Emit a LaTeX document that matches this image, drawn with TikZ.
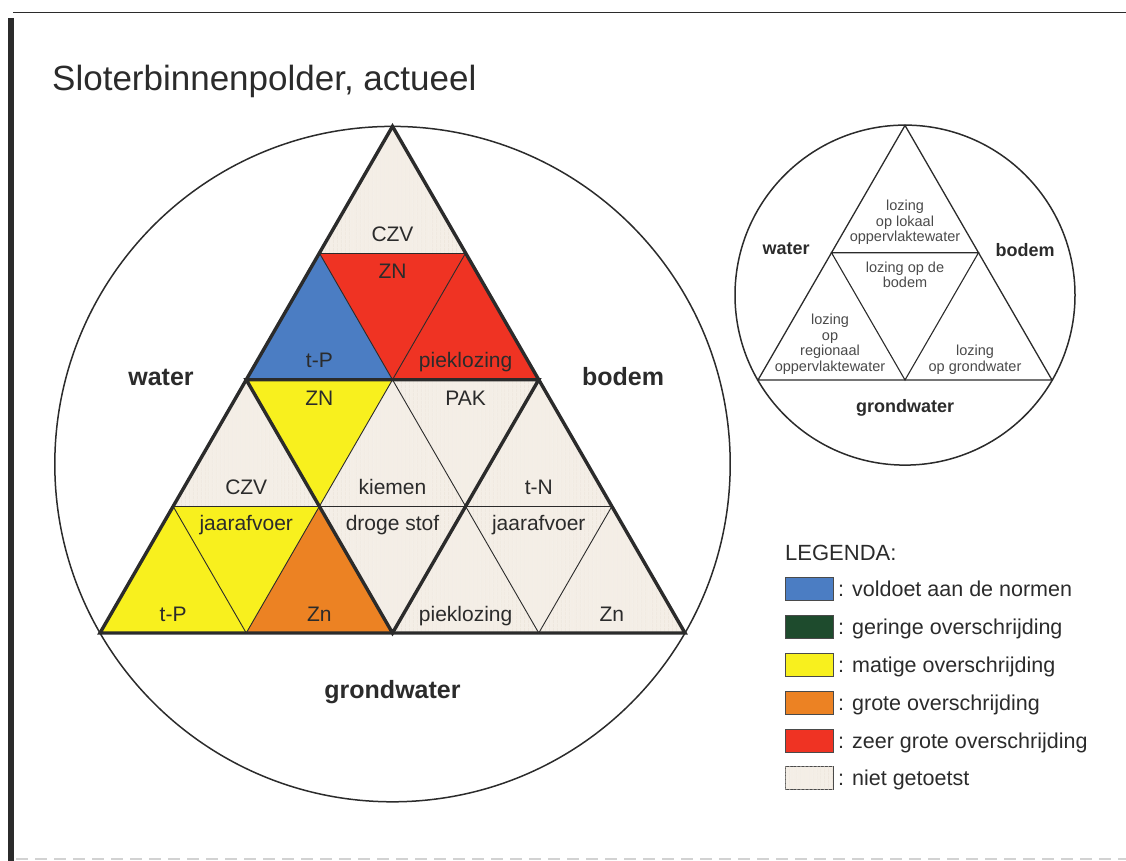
\documentclass[tikz,border=0pt]{standalone}
\usepackage{fontspec}
\setmainfont{Liberation Sans}
\usetikzlibrary{patterns.meta}

\definecolor{ink}{HTML}{2B2B2B}
\definecolor{softink}{HTML}{4A4A4A}
\definecolor{cblue}{HTML}{4B7DC3}
\definecolor{cgreen}{HTML}{1E4B2D}
\definecolor{cyellow}{HTML}{F8F01E}
\definecolor{corange}{HTML}{EC8223}
\definecolor{cred}{HTML}{EF3323}
\definecolor{niet}{HTML}{F4EEE6}
\definecolor{nietline}{HTML}{E9E0D4}

\begin{document}
\begin{tikzpicture}[x=1pt,y=-1pt,
  thickline/.style={line width=3.4pt, line join=miter, draw=ink},
  thinline/.style={line width=0.9pt, draw=ink},
  ringline/.style={line width=1.5pt, draw=ink},
  nietcell/.style={fill=niet, postaction={pattern={Lines[angle=90,distance=4pt,line width=0.8pt]}, pattern color=nietline}},
  lbl/.style={font=\fontsize{21}{21}\selectfont, text=ink, inner sep=0pt, anchor=base},
  side/.style={font=\fontsize{25}{25}\selectfont\bfseries, text=ink, inner sep=0pt, anchor=base},
  smallside/.style={font=\fontsize{18}{18}\selectfont\bfseries, text=ink, inner sep=0pt, anchor=base},
  smalltext/.style={font=\fontsize{14.5}{15.5}\selectfont, text=softink, inner sep=0pt, align=center},
  legendbox/.style={draw=softink, line width=0.9pt, minimum width=48pt, minimum height=23pt, inner sep=0pt},
  legendtext/.style={font=\fontsize{21.5}{21.5}\selectfont, text=ink, inner sep=0pt, anchor=base west}
]
\useasboundingbox (0,0) rectangle (1126,861);

% frame
\draw[line width=1.6pt, ink] (13,12.5) -- (1126,12.5);
\draw[line width=6pt, ink] (10.5,18) -- (10.5,861);
\draw[line width=2.5pt, gray!35, dash pattern=on 12pt off 7pt] (16,859) -- (1126,859);

% title
\node[anchor=base west, font=\fontsize{35}{35}\selectfont, text=ink, inner sep=0pt] (title) at (52,91) {Sloterbinnenpolder, actueel};

% grid points of the large triangle
\coordinate (p00) at (100,633);
\coordinate (p01) at (246.25,633);
\coordinate (p02) at (392.5,633);
\coordinate (p03) at (538.75,633);
\coordinate (p04) at (685,633);
\coordinate (p10) at (173.125,506.35);
\coordinate (p11) at (319.375,506.35);
\coordinate (p12) at (465.625,506.35);
\coordinate (p13) at (611.875,506.35);
\coordinate (p20) at (246.25,379.7);
\coordinate (p21) at (392.5,379.7);
\coordinate (p22) at (538.75,379.7);
\coordinate (p30) at (319.375,253.05);
\coordinate (p31) at (465.625,253.05);
\coordinate (p40) at (392.5,126.4);

% surrounding circle
\draw[ringline] (392.5,464.1) circle[radius=337.7];

% cells: top part
\path[nietcell] (p40) -- (p30) -- (p31) -- cycle;
\path[fill=cblue] (p30) -- (p20) -- (p21) -- cycle;
\path[fill=cred] (p30) -- (p31) -- (p21) -- cycle;
\path[fill=cred] (p31) -- (p21) -- (p22) -- cycle;
% middle part
\path[fill=cyellow] (p20) -- (p21) -- (p11) -- cycle;
\path[nietcell] (p21) -- (p22) -- (p12) -- cycle;
\path[nietcell] (p21) -- (p11) -- (p12) -- cycle;
\path[nietcell] (p11) -- (p12) -- (p02) -- cycle;
% lower left part
\path[nietcell] (p20) -- (p10) -- (p11) -- cycle;
\path[fill=cyellow] (p10) -- (p00) -- (p01) -- cycle;
\path[fill=cyellow] (p10) -- (p11) -- (p01) -- cycle;
\path[fill=corange] (p11) -- (p01) -- (p02) -- cycle;
% lower right part
\path[nietcell] (p22) -- (p12) -- (p13) -- cycle;
\path[nietcell] (p12) -- (p02) -- (p03) -- cycle;
\path[nietcell] (p12) -- (p13) -- (p03) -- cycle;
\path[nietcell] (p13) -- (p03) -- (p04) -- cycle;

% thin division lines
\draw[thinline] (p30) -- (p31);
\draw[thinline] (p10) -- (p13);
\draw[thinline] (p30) -- (p03);
\draw[thinline] (p31) -- (p01);
\draw[thinline] (p10) -- (p01);
\draw[thinline] (p13) -- (p03);

% thick outlines
\draw[thickline] (p00) -- (p04) -- (p40) -- cycle;
\draw[thickline] (p20) -- (p22) -- (p02) -- cycle;

% cell labels
\node[lbl] (l1) at (392.5,241) {CZV};
\node[lbl] (l2) at (392.5,278) {ZN};
\node[lbl] (l3) at (319.375,367.7) {t-P};
\node[lbl] (l4) at (465.625,367.7) {pieklozing};
\node[lbl] (l5) at (319.375,405.5) {ZN};
\node[lbl] (l6) at (465.625,405.5) {PAK};
\node[lbl] (l7) at (246.25,494.35) {CZV};
\node[lbl] (l8) at (392.5,494.35) {kiemen};
\node[lbl] (l9) at (538.75,494.35) {t-N};
\node[lbl] (l10) at (246.25,530.5) {jaarafvoer};
\node[lbl] (l11) at (392.5,530.5) {droge stof};
\node[lbl] (l12) at (538.75,530.5) {jaarafvoer};
\node[lbl] (l13) at (173.125,621) {t-P};
\node[lbl] (l14) at (319.375,621) {Zn};
\node[lbl] (l15) at (465.625,621) {pieklozing};
\node[lbl] (l16) at (611.875,621) {Zn};

% compartments
\node[side] (swater) at (161,385) {water};
\node[side] (sbodem) at (623,385) {bodem};
\node[side] (sgrond) at (392.5,698) {grondwater};

% key diagram
\coordinate (q0) at (758,380);
\coordinate (q1) at (1052,380);
\coordinate (q2) at (905,125.4);
\coordinate (qa) at (831.5,252.7);
\coordinate (qb) at (978.5,252.7);
\coordinate (qc) at (905,380);
\draw[ringline] (905,295.1) circle[radius=170];
\draw[line width=1.3pt, ink, line join=miter] (q0) -- (q1) -- (q2) -- cycle;
\draw[line width=1.1pt, ink] (qa) -- (qb) -- (qc) -- cycle;

\node[smallside] (kwater) at (786,254) {water};
\node[smallside] (kbodem) at (1025,256) {bodem};
\node[smallside] (kgrond) at (905,412) {grondwater};

\node[smalltext] (k1) at (905,222.5) {lozing\\op lokaal\\oppervlaktewater};
\node[smalltext] (k2) at (905,275) {lozing op de\\bodem};
\node[smalltext] (k3) at (830,344) {lozing\\op\\regionaal\\oppervlaktewater};
\node[smalltext] (k4) at (975,359.5) {lozing\\op grondwater};

% legend
\node[anchor=base west, font=\fontsize{22}{22}\selectfont, text=ink, inner sep=0pt] (legtitle) at (785,560) {LEGENDA:};
\node[legendbox, fill=cblue, anchor=west] (b1) at (785,589) {};
\node[legendbox, fill=cgreen, anchor=west] (b2) at (785,627) {};
\node[legendbox, fill=cyellow, anchor=west] (b3) at (785,665) {};
\node[legendbox, fill=corange, anchor=west] (b4) at (785,703) {};
\node[legendbox, fill=cred, anchor=west] (b5) at (785,741) {};
\node[legendbox, nietcell, anchor=west] (b6) at (785,778) {};
\node[legendtext] (t1) at (838,596) {: voldoet aan de normen};
\node[legendtext] (t2) at (838,634) {: geringe overschrijding};
\node[legendtext] (t3) at (838,672) {: matige overschrijding};
\node[legendtext] (t4) at (838,710) {: grote overschrijding};
\node[legendtext] (t5) at (838,748) {: zeer grote overschrijding};
\node[legendtext] (t6) at (838,785) {: niet getoetst};
\end{tikzpicture}
\end{document}
